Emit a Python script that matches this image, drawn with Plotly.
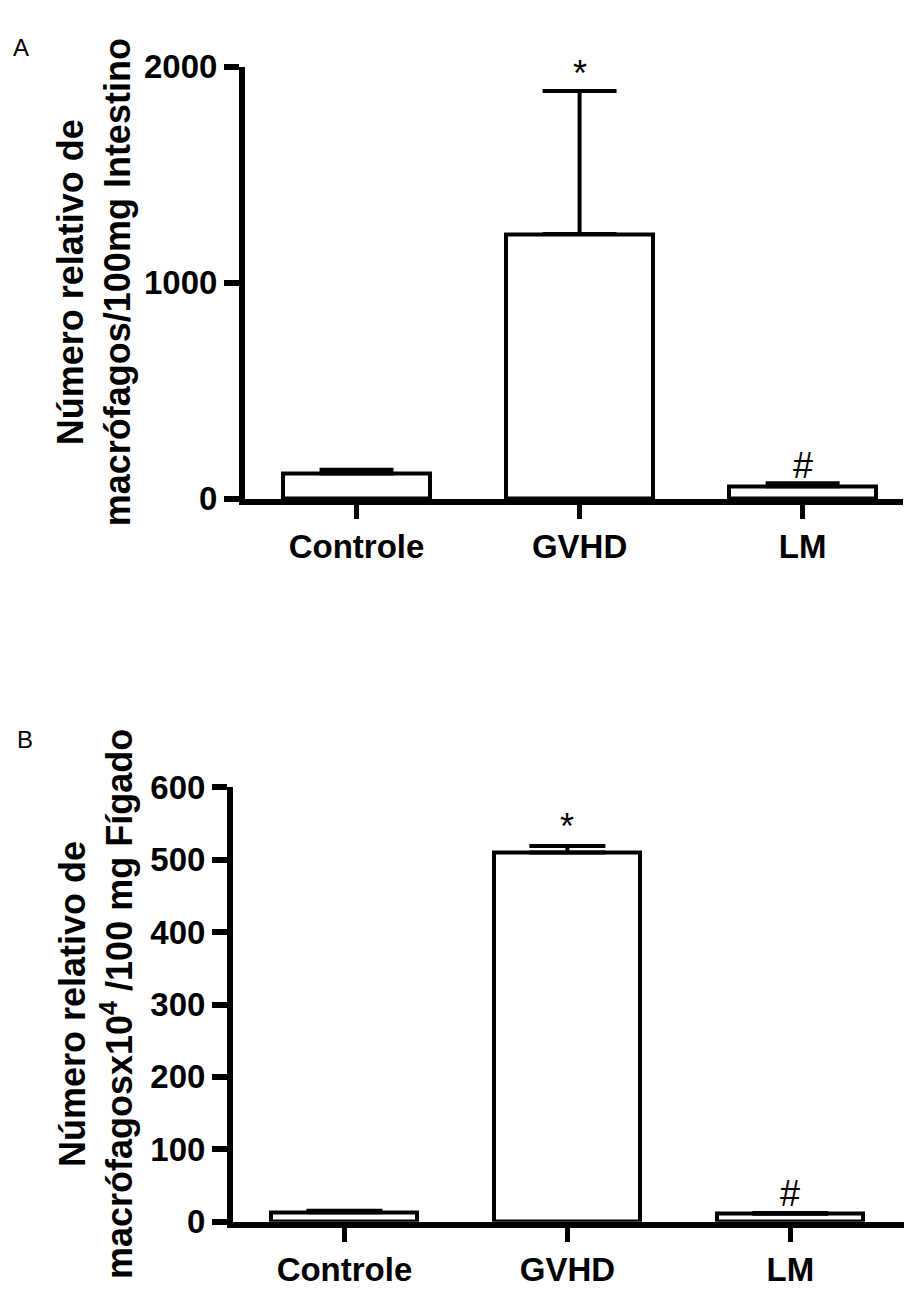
import plotly.graph_objects as go

W, H = 906, 1298

categories = ["Controle", "GVHD", "LM"]

# Panel A: intestine
a_means = [117, 1225, 58]
a_errs = [18, 662, 14]
a_sig = ["", "*", "#"]
a_ticks = [0, 1000, 2000]

# Panel B: liver
b_means = [13, 510, 11]
b_errs = [2, 9, 1]
b_sig = ["", "*", "#"]
b_ticks = [0, 100, 200, 300, 400, 500, 600]

FONT = "Liberation Sans, Arial, sans-serif"
TICKFONT = dict(family=FONT, size=33, color="black", weight="bold")


def px_x(p):
    return p / W


def px_y(p):
    return 1 - p / H


fig = go.Figure()

fig.add_trace(go.Bar(
    x=categories, y=a_means, xaxis="x", yaxis="y",
    width=0.66,
    marker=dict(color="white", line=dict(color="black", width=4)),
    error_y=dict(type="data", symmetric=False, array=a_errs,
                 arrayminus=[0, 0, 0], color="black", thickness=4, width=37),
    showlegend=False,
))
fig.add_trace(go.Bar(
    x=categories, y=b_means, xaxis="x2", yaxis="y2",
    width=0.655,
    marker=dict(color="white", line=dict(color="black", width=4)),
    error_y=dict(type="data", symmetric=False, array=b_errs,
                 arrayminus=[0, 0, 0], color="black", thickness=4, width=38),
    showlegend=False,
))

axis_common = dict(
    showgrid=False, zeroline=False, showline=True, linecolor="black",
    ticks="outside", tickcolor="black", tickfont=TICKFONT,
)

fig.update_layout(
    width=W, height=H,
    margin=dict(l=0, r=0, t=0, b=0),
    paper_bgcolor="white", plot_bgcolor="white",
    bargap=0,
    xaxis=dict(domain=[px_x(245), px_x(903)], range=[-0.5, 2.45],
               anchor="y", linewidth=6, ticklen=14, tickwidth=5,
               **axis_common),
    yaxis=dict(domain=[px_y(495), px_y(50)], range=[0, 2000],
               tickvals=a_ticks, anchor="x", linewidth=6, ticklen=15,
               tickwidth=6, **axis_common),
    xaxis2=dict(domain=[px_x(233), px_x(904)], range=[-0.5, 2.51],
                anchor="y2", linewidth=6, ticklen=14, tickwidth=5,
                **axis_common),
    yaxis2=dict(domain=[px_y(1239), px_y(792)], range=[0, 600],
                tickvals=b_ticks, anchor="x2", linewidth=6, ticklen=15,
                tickwidth=6, **axis_common),
)

ann = []
# significance marks
for cat, m, e, s in zip(categories, a_means, a_errs, a_sig):
    if s:
        ann.append(dict(x=cat, y=m + e, xref="x", yref="y", text=s,
                        showarrow=False, xanchor="center", yanchor="bottom",
                        yshift=-5,
                        font=dict(family=FONT, size=36, color="black")))
for cat, m, e, s in zip(categories, b_means, b_errs, b_sig):
    if s:
        ann.append(dict(x=cat, y=m + e, xref="x2", yref="y2", text=s,
                        showarrow=False, xanchor="center", yanchor="bottom",
                        yshift=-3,
                        font=dict(family=FONT, size=36, color="black")))

# panel letters
ann.append(dict(x=px_x(21), y=px_y(30), xref="paper", yref="paper", text="A",
                showarrow=False, xanchor="center", yanchor="middle",
                font=dict(family=FONT, size=24, color="black")))
ann.append(dict(x=px_x(25), y=px_y(743), xref="paper", yref="paper", text="B",
                showarrow=False, xanchor="center", yanchor="middle",
                font=dict(family=FONT, size=24, color="black")))

# y-axis titles
ann.append(dict(x=px_x(94), y=px_y(272), xref="paper", yref="paper",
                text="Número relativo de<br>macrófagos/100mg Intestino",
                textangle=-90, showarrow=False,
                xanchor="center", yanchor="middle",
                font=dict(family=FONT, size=36, color="black", weight="bold")))
ann.append(dict(x=px_x(96), y=px_y(1015), xref="paper", yref="paper",
                text="Número relativo de<br>macrófagosx10<sup>4</sup> /100 mg Fígado",
                textangle=-90, showarrow=False,
                xanchor="center", yanchor="middle",
                font=dict(family=FONT, size=36, color="black", weight="bold")))

fig.update_layout(annotations=ann)

fig.write_html("out.html")
